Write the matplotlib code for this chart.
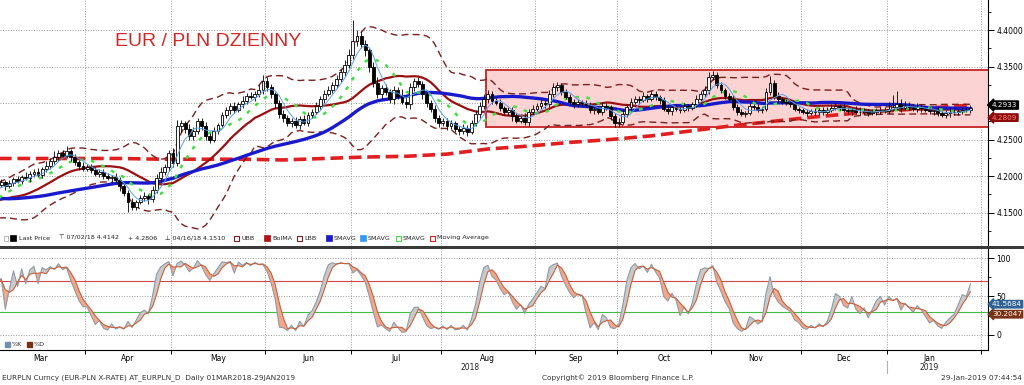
import matplotlib
matplotlib.use('Agg')
import matplotlib.pyplot as plt
import matplotlib.transforms as mtransforms
from matplotlib.patches import Rectangle
import numpy as np
import pandas as pd

W, H = 1024, 385

# daily closes, EURPLN, one list per month
mar = [4.188, 4.192, 4.186, 4.190, 4.196, 4.193, 4.199, 4.197, 4.203, 4.206, 4.201,
       4.209, 4.214, 4.220, 4.226, 4.231, 4.228, 4.234, 4.226, 4.219, 4.214, 4.210]
apr = [4.213, 4.208, 4.203, 4.206, 4.200, 4.197, 4.199, 4.194, 4.186, 4.177, 4.165,
       4.158, 4.164, 4.170, 4.172, 4.168, 4.181, 4.197, 4.205, 4.212, 4.232]
may = [4.218, 4.268, 4.272, 4.265, 4.255, 4.262, 4.275, 4.268, 4.255, 4.250, 4.262, 4.270,
       4.283, 4.290, 4.296, 4.290, 4.298, 4.303, 4.310, 4.308, 4.312, 4.318, 4.330]
jun = [4.322, 4.312, 4.300, 4.285, 4.280, 4.272, 4.276, 4.270, 4.278, 4.273, 4.284,
       4.288, 4.296, 4.305, 4.312, 4.318, 4.325, 4.333, 4.342, 4.352, 4.366]
jul = [4.385, 4.392, 4.381, 4.372, 4.350, 4.328, 4.312, 4.320, 4.315, 4.305, 4.318,
       4.310, 4.302, 4.298, 4.322, 4.330, 4.326, 4.312, 4.300, 4.292, 4.280, 4.272]
aug = [4.275, 4.268, 4.272, 4.265, 4.262, 4.266, 4.260, 4.272, 4.285, 4.296, 4.305, 4.312,
       4.303, 4.300, 4.293, 4.288, 4.290, 4.282, 4.276, 4.280, 4.274, 4.288, 4.292]
sep = [4.296, 4.300, 4.298, 4.312, 4.322, 4.325, 4.315, 4.308, 4.302, 4.298,
       4.301, 4.300, 4.297, 4.290, 4.292, 4.288, 4.296, 4.294, 4.282, 4.272]
octo = [4.274, 4.285, 4.294, 4.302, 4.306, 4.304, 4.310, 4.306, 4.312, 4.308, 4.304, 4.292,
        4.289, 4.294, 4.292, 4.290, 4.296, 4.293, 4.298, 4.306, 4.312, 4.318, 4.335]
nov = [4.338, 4.325, 4.318, 4.310, 4.306, 4.295, 4.288, 4.285, 4.286, 4.296, 4.294,
       4.290, 4.292, 4.315, 4.328, 4.310, 4.305, 4.302, 4.300, 4.298, 4.292, 4.290]
dec = [4.288, 4.286, 4.289, 4.287, 4.290, 4.288, 4.291, 4.293, 4.296, 4.294, 4.290,
       4.289, 4.291, 4.288, 4.287, 4.289, 4.286, 4.288, 4.290, 4.291, 4.289]
jan = [4.292, 4.295, 4.298, 4.293, 4.296, 4.294, 4.292, 4.295, 4.293, 4.291, 4.289,
       4.290, 4.286, 4.284, 4.286, 4.288, 4.287, 4.289, 4.291, 4.290, 4.2933]

# wicks above / below the body, in 0.001
up_wick = [3, 4, 2, 5, 3, 4, 3, 6, 4, 3, 5, 4, 6, 5, 8, 4, 5, 7, 3, 4, 3, 5,
           4, 3, 5, 4, 3, 4, 3, 5, 4, 3, 4, 5, 3, 4, 6, 4, 5, 6, 7, 5, 4,
           6, 9, 5, 4, 6, 5, 4, 5, 6, 4, 5, 3, 4, 5, 4, 5, 3, 6, 4, 5, 4, 7, 8,
           5, 4, 3, 4, 5, 3, 4, 5, 4, 5, 3, 4, 5, 4, 6, 5, 4, 6, 5, 7, 8,
           29, 8, 6, 5, 4, 6, 8, 5, 6, 4, 5, 4, 9, 6, 5, 4, 5, 4, 3, 4, 5, 4,
           5, 4, 5, 3, 4, 5, 4, 5, 6, 5, 7, 6, 5, 4, 5, 3, 4, 5, 4, 5, 6, 4, 5,
           4, 5, 4, 6, 5, 4, 3, 4, 5, 3, 4, 3, 4, 5, 3, 4, 5, 4, 3, 4,
           5, 6, 4, 5, 3, 4, 5, 3, 4, 5, 3, 4, 5, 3, 4, 3, 4, 3, 4, 5, 4, 5, 8,
           6, 5, 4, 3, 4, 5, 3, 4, 3, 4, 3, 4, 3, 6, 9, 4, 5, 3, 4, 3, 4, 3,
           3, 4, 3, 4, 3, 5, 4, 6, 4, 3, 4, 3, 4, 5, 7, 4, 3, 4, 3, 4, 3,
           10, 16, 18, 8, 7, 5, 4, 5, 4, 3, 4, 3, 4, 3, 4, 5, 4, 3, 4, 3, 4]
dn_wick = [4, 3, 5, 3, 4, 2, 4, 3, 5, 4, 3, 4, 3, 5, 4, 6, 4, 3, 5, 4, 6, 3,
           3, 4, 3, 5, 4, 3, 5, 4, 6, 5, 14, 5, 4, 3, 4, 6, 3, 4, 5, 4, 5,
           5, 4, 8, 6, 5, 6, 4, 5, 6, 5, 4, 4, 3, 4, 5, 4, 3, 5, 4, 3, 5, 4, 5,
           6, 5, 7, 5, 6, 4, 5, 4, 5, 3, 4, 5, 3, 4, 5, 3, 4, 5, 4, 5, 4,
           6, 7, 6, 8, 7, 6, 5, 6, 4, 5, 6, 5, 4, 5, 6, 5, 4, 6, 5, 4, 6, 5,
           4, 5, 4, 5, 6, 4, 5, 3, 4, 5, 4, 5, 4, 3, 4, 5, 4, 6, 4, 3, 4, 5, 4,
           3, 4, 5, 3, 4, 5, 4, 3, 4, 5, 3, 4, 3, 4, 5, 3, 4, 4, 5, 5,
           5, 3, 4, 3, 4, 5, 3, 4, 3, 4, 5, 3, 4, 5, 3, 4, 3, 4, 3, 4, 3, 4, 5,
           4, 5, 4, 5, 3, 4, 5, 3, 4, 3, 4, 3, 4, 3, 4, 5, 3, 4, 3, 4, 3, 4,
           3, 4, 3, 4, 3, 4, 3, 4, 3, 4, 3, 4, 5, 3, 4, 3, 4, 3, 4, 5, 3,
           4, 3, 4, 5, 3, 4, 3, 4, 5, 3, 4, 5, 4, 3, 4, 5, 4, 3, 4, 3, 4]

# closes before the visible window (Dec 2017 - Feb 2018), only feed the averages
pre_closes = [4.205, 4.200, 4.198, 4.190, 4.185, 4.180, 4.178, 4.175, 4.177, 4.172, 4.178,
              4.170, 4.168, 4.165, 4.172, 4.176, 4.180, 4.182, 4.178, 4.175, 4.170, 4.168,
              4.165, 4.160, 4.158, 4.152, 4.155, 4.150, 4.148, 4.155, 4.160, 4.158, 4.162,
              4.165, 4.172, 4.178, 4.175, 4.168, 4.160, 4.155, 4.150, 4.147, 4.152, 4.156,
              4.160, 4.164, 4.170, 4.176, 4.180, 4.185]

# 200-day moving average (trading-day index, value)
ma200_idx = [0, 10, 20, 30, 40, 50, 60, 70, 80, 90, 100, 110, 120, 130, 140,
             150, 160, 170, 180, 190, 200, 210, 220, 230, 238]
ma200_val = [4.224, 4.224, 4.224, 4.224, 4.223, 4.223, 4.223, 4.222, 4.224, 4.226,
             4.227, 4.230, 4.237, 4.241, 4.246, 4.250, 4.255, 4.262, 4.269, 4.275,
             4.281, 4.286, 4.290, 4.294, 4.297]

month_names = ['Mar', 'Apr', 'May', 'Jun', 'Jul', 'Aug', 'Sep', 'Oct', 'Nov', 'Dec', 'Jan']
price_ticks = [4.15, 4.20, 4.25, 4.30, 4.35, 4.40]
price_labels = ['4.1500', '4.2000', '4.2500', '', '4.3500', '4.4000']
box_start, box_lo, box_hi = 120, 4.267, 4.345

close = np.array(mar + apr + may + jun + jul + aug + sep + octo + nov + dec + jan)
dates = pd.bdate_range('2018-03-01', '2019-01-29')
x = np.arange(len(close))

opn = np.r_[pre_closes[-1], close[:-1]]
hi = np.maximum(opn, close) + np.array(up_wick) * 0.001
lo = np.minimum(opn, close) - np.array(dn_wick) * 0.001

allc = pd.Series(np.r_[pre_closes, close])
n0 = len(pre_closes)
sma5 = allc.rolling(5).mean().values[n0:]
sma10 = allc.rolling(10).mean().values[n0:]
bol = allc.rolling(20).mean()
sd = allc.rolling(20).std(ddof=0)
ubb = (bol + 2 * sd).values[n0:]
lbb = (bol - 2 * sd).values[n0:]
bol = bol.values[n0:]
sma50 = allc.rolling(50).mean().values[n0:]

# fast stochastic 14 / 3
hh = pd.Series(hi).rolling(14, min_periods=1).max()
ll = pd.Series(lo).rolling(14, min_periods=1).min()
k = 100 * (close - ll) / (hh - ll)
d = k.rolling(3, min_periods=1).mean()
k, d = k.values, d.values

# month boundaries and centres in index units
mon = dates.to_period('M')
starts = [i for i in range(len(dates)) if i == 0 or mon[i] != mon[i - 1]]
bounds = [s - 0.5 for s in starts[1:]] + [240.5]
ends = starts[1:] + [len(dates)]
centers = [(s + e - 1) / 2 for s, e in zip(starts, ends)]


def px(v):
    return v / W


def py(v):
    return 1 - v / H


fig = plt.figure(figsize=(W / 100, H / 100), dpi=100)
ax = fig.add_axes([0, py(245.5), px(988), 245.5 / H])
ax2 = fig.add_axes([0, py(350), px(988), (350 - 249) / H])

for a in (ax, ax2):
    a.set_xlim(0.7, 242.3)
    for s in ('left', 'top'):
        a.spines[s].set_visible(False)
    a.spines['right'].set_color('black')
    a.yaxis.tick_right()
    a.tick_params(axis='y', direction='out', length=4, width=0.7, labelsize=5.5, pad=2)
    a.set_xticks(bounds)
    a.grid(True, color='#9a9a9a', ls=':', lw=0.7)
    a.set_axisbelow(True)

ax.spines['bottom'].set_visible(False)
ax.tick_params(axis='x', length=0, labelbottom=False)

# main price panel
ax.set_ylim(4.1048, 4.4411)
ax.set_yticks(price_ticks, labels=price_labels)
ax.set_yticks(np.arange(4.125, 4.43, 0.025), minor=True)
ax.tick_params(axis='y', which='minor', length=2, width=0.6)

ax.add_patch(Rectangle((box_start - 0.5, box_lo), 250, box_hi - box_lo,
                       facecolor='#fcd3d3', edgecolor='#c83030', lw=1.4, zorder=1))

ax.plot(ma200_idx, ma200_val, color='#e02020', lw=2.6, dashes=(3.5, 1.6), zorder=2)
ax.plot(x, ubb, color='#7a1f1f', lw=1.0, dashes=(5, 3), zorder=2)
ax.plot(x, lbb, color='#7a1f1f', lw=1.0, dashes=(5, 3), zorder=2)
ax.plot(x, bol, color='#9a1010', lw=1.6, zorder=2)
ax.plot(x, sma50, color='#1a1acc', lw=2.4, zorder=2)
ax.plot(x, sma10, color='#44dd44', lw=1.8, dashes=(1.5, 3), zorder=2)

up = close >= opn
ax.vlines(x, lo, hi, color='black', lw=0.6, zorder=3)
body_lo = np.minimum(opn, close)
body_h = np.maximum(np.abs(close - opn), 0.0006)
ax.bar(x[up], body_h[up], bottom=body_lo[up], width=0.7, facecolor='white',
       edgecolor='black', lw=0.6, zorder=4)
ax.bar(x[~up], body_h[~up], bottom=body_lo[~up], width=0.7, facecolor='black',
       edgecolor='black', lw=0.6, zorder=4)
ax.plot(x, sma5, color='#5aa0e6', lw=0.7, zorder=5)

tr = mtransforms.blended_transform_factory(ax.transAxes, ax.transData)
ax.text(1.004, 4.2800, '4.2809', transform=tr, ha='left', va='center', fontsize=5.2,
        color='#ff8080', zorder=6, clip_on=False,
        bbox=dict(boxstyle='larrow,pad=0.1', fc='#8a0c0c', ec='#8a0c0c'))
ax.text(1.004, 4.2972, '4.2933', transform=tr, ha='left', va='center', fontsize=5.2,
        color='white', zorder=7, clip_on=False,
        bbox=dict(boxstyle='larrow,pad=0.15', fc='black', ec='black'))

# stochastic panel
ax2.set_ylim(-19.5, 111.7)
ax2.set_yticks([0, 50, 100])
ax2.set_yticks([25, 75], minor=True)
ax2.tick_params(axis='y', which='minor', length=2, width=0.6)
ax2.axhline(70, color='#d04848', lw=0.8, zorder=1)
ax2.axhline(30, color='#44bb44', lw=0.8, zorder=1)
ax2.fill_between(x, k, d, where=k >= d, interpolate=True, color='#c9c9c9', lw=0, zorder=2)
ax2.fill_between(x, k, d, where=k < d, interpolate=True, color='#f2a88c', lw=0, zorder=2)
ax2.plot(x, k, color='#8e9aa6', lw=0.8, zorder=3)
ax2.plot(x, d, color='#c8603a', lw=0.8, zorder=3)
ax2.spines['bottom'].set_color('black')
ax2.tick_params(axis='x', which='major', direction='out', length=3, width=0.7, labelbottom=False)
ax2.set_xticks(centers, minor=True)
ax2.set_xticklabels(month_names, minor=True)
ax2.tick_params(axis='x', which='minor', length=0, labelsize=5.5, pad=3)

tr2 = mtransforms.blended_transform_factory(ax2.transAxes, ax2.transData)
ax2.text(1.004, 40.0, '41.5684', transform=tr2, ha='left', va='center', fontsize=5.2,
         color='white', zorder=7, clip_on=False,
         bbox=dict(boxstyle='larrow,pad=0.1', fc='#2f6394', ec='#2f6394'))
ax2.text(1.004, 27.0, '30.2047', transform=tr2, ha='left', va='center', fontsize=5.2,
         color='white', zorder=6, clip_on=False,
         bbox=dict(boxstyle='larrow,pad=0.1', fc='#7a3214', ec='#7a3214'))

# year labels
trx = mtransforms.blended_transform_factory(ax2.transData, fig.transFigure)
ax2.text((centers[0] + 217) / 2 + 2, py(368), '2018', transform=trx, ha='center',
         va='center', fontsize=5.5, color='#222222', clip_on=False)
ax2.text(centers[-1], py(368), '2019', transform=trx, ha='center', va='center',
         fontsize=5.5, color='#222222', clip_on=False)
ax2.plot([217.5, 217.5], [py(361), py(373)], transform=trx, color='#b0b0b0', lw=0.8,
         clip_on=False)

# separator between panels
fig.add_artist(Rectangle((0, py(248.8)), 1, 3.2 / H, transform=fig.transFigure,
                         facecolor='#3a3a3a', edgecolor='none'))

# title
fig.text(px(115), py(41), 'EUR / PLN DZIENNY', fontsize=14, color='#d42828',
         family='Liberation Sans', va='center', ha='left')

# legend row of the price panel
ly = py(238)
fs = 4.6
fig.add_artist(Rectangle((px(4), ly - 2.5 / H), 4 / W, 5 / H, transform=fig.transFigure,
                         facecolor='white', edgecolor='#999999', lw=0.5))
fig.add_artist(Rectangle((px(10), ly - 3 / H), 6 / W, 6 / H, transform=fig.transFigure,
                         facecolor='black', edgecolor='black', lw=0.5))
legend_txt = [(19, 'Last Price'), (59, '\u22a4 07/02/18 4.4142'), (128, '+ 4.2806'),
              (165, '\u22a5 04/16/18 4.1510'), (241, 'UBB'), (272, 'BolMA'), (304, 'LBB'),
              (334, 'SMAVG'), (368, 'SMAVG'), (403, 'SMAVG'), (437, 'Moving Average')]
for lx, t in legend_txt:
    fig.text(px(lx), ly, t, fontsize=fs, va='center', ha='left', color='#222222')
for lx, c, filled in [(234, '#7a1f1f', False), (264, '#b01010', True), (297, '#7a1f1f', False),
                      (326, '#1a1acc', True), (360, '#3399ff', True),
                      (396, '#44dd44', False), (430, '#e02020', False)]:
    if filled:
        fig.add_artist(Rectangle((px(lx), ly - 3 / H), 6 / W, 6 / H, transform=fig.transFigure,
                                 facecolor=c, edgecolor=c, lw=0.5))
    else:
        fig.add_artist(Rectangle((px(lx), ly - 2.5 / H), 5 / W, 5 / H, transform=fig.transFigure,
                                 facecolor='none', edgecolor=c, lw=0.8))

# legend of the stochastic panel
sy = py(344)
fig.add_artist(Rectangle((px(5), sy - 2.5 / H), 5 / W, 5 / H, transform=fig.transFigure,
                         facecolor='#6f8fb0', edgecolor='#6f8fb0'))
fig.text(px(12), sy, '%K', fontsize=fs, va='center', ha='left', color='#222222')
fig.add_artist(Rectangle((px(27), sy - 2.5 / H), 5 / W, 5 / H, transform=fig.transFigure,
                         facecolor='#7a3214', edgecolor='#7a3214'))
fig.text(px(34), sy, '%D', fontsize=fs, va='center', ha='left', color='#222222')

# footer
fig.text(px(2), py(378), 'EURPLN Curncy (EUR-PLN X-RATE) AT_EURPLN_D  Daily 01MAR2018-29JAN2019',
         fontsize=5.3, va='center', ha='left', color='#333333')
fig.text(px(542), py(378), 'Copyright\u00a9 2019 Bloomberg Finance L.P.', fontsize=5.3,
         va='center', ha='left', color='#333333')
fig.text(px(1022), py(378), '29-Jan-2019 07:44:54', fontsize=5.3, va='center', ha='right',
         color='#333333')

fig.savefig('out.png', dpi=100)
